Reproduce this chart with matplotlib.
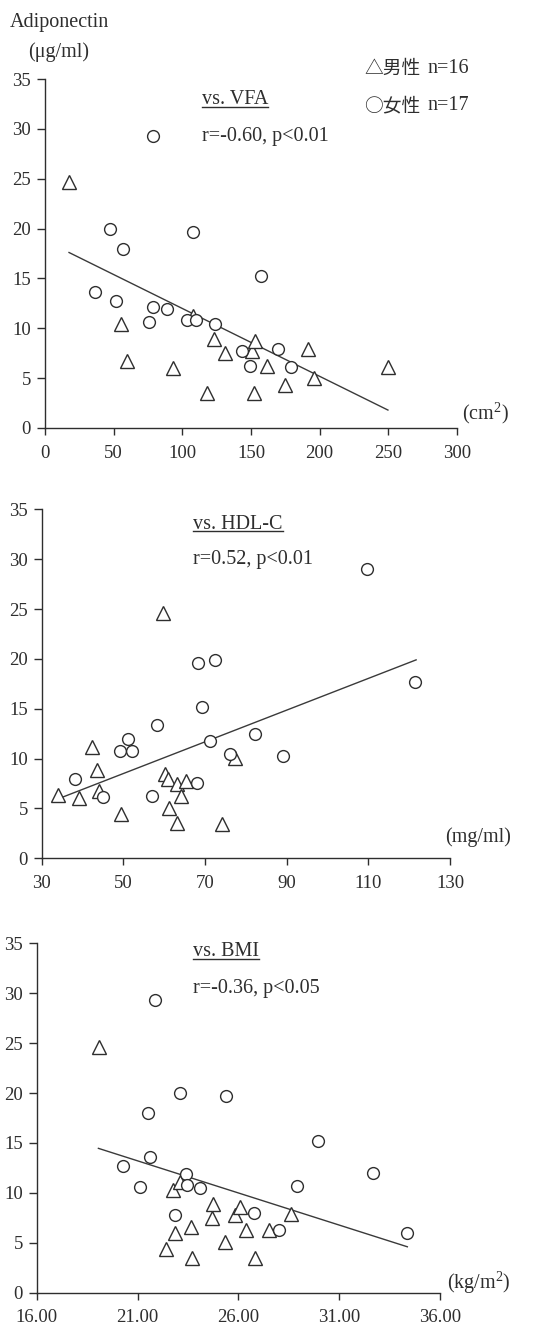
import matplotlib
matplotlib.use("Agg")
import matplotlib.pyplot as plt
from matplotlib.lines import Line2D

# ---------------- data ----------------
vfa_m_x = [17.7, 55.1, 59.5, 93.0, 107.6, 117.8, 122.7, 131.2, 150.6, 153.0, 152.5, 161.5, 174.9, 191.2, 196.0, 249.7]
vfa_m_y = [24.7, 10.4, 6.75, 6.0, 11.2, 3.5, 8.9, 7.5, 7.7, 8.7, 3.5, 6.2, 4.3, 7.9, 5.0, 6.1]
vfa_f_x = [78.5, 47.4, 108.1, 56.6, 157.4, 36.2, 51.7, 78.5, 88.7, 75.8, 103.7, 110.0, 123.6, 143.6, 149.4, 169.3, 179.0]
vfa_f_y = [29.3, 20.0, 19.7, 18.0, 15.2, 13.6, 12.7, 12.1, 11.9, 10.6, 10.8, 10.8, 10.4, 7.7, 6.2, 7.9, 6.1]
vfa_fit_x = [17.5, 249.7]
vfa_fit_y = [17.6, 1.8]

hdl_m_x = [34.1, 39.1, 42.3, 43.5, 44.0, 49.3, 59.6, 60.2, 61.0, 61.3, 63.1, 65.3, 64.1, 63.1, 74.2, 77.3]
hdl_m_y = [6.35, 6.0, 11.2, 8.9, 6.7, 4.4, 24.6, 8.5, 8.0, 5.0, 7.5, 7.8, 6.2, 3.5, 3.45, 10.1]
hdl_f_x = [109.6, 68.4, 72.4, 121.4, 69.2, 58.2, 82.2, 51.2, 71.2, 49.2, 52.2, 76.1, 89.0, 38.2, 68.1, 44.9, 57.0]
hdl_f_y = [29.05, 19.6, 19.9, 17.65, 15.2, 13.4, 12.5, 12.0, 11.8, 10.8, 10.8, 10.5, 10.3, 8.0, 7.6, 6.1, 6.25]
hdl_fit_x = [34.9, 121.7]
hdl_fit_y = [6.1, 19.9]

bmi_m_x = [19.09, 22.78, 23.11, 22.40, 22.88, 23.65, 23.70, 24.76, 24.68, 25.36, 25.85, 26.08, 26.38, 26.84, 27.52, 28.61]
bmi_m_y = [24.65, 10.3, 11.1, 4.4, 6.0, 6.6, 3.5, 8.85, 7.5, 5.1, 7.8, 8.6, 6.3, 3.5, 6.3, 7.9]
bmi_f_x = [21.85, 23.09, 25.39, 21.50, 29.95, 21.60, 20.28, 23.42, 32.66, 23.47, 21.12, 24.12, 28.89, 22.84, 26.78, 28.03, 34.35]
bmi_f_y = [29.3, 19.97, 19.7, 17.97, 15.2, 13.56, 12.7, 11.9, 11.96, 10.8, 10.6, 10.5, 10.7, 7.75, 7.95, 6.3, 6.0]
bmi_fit_x = [19.06, 34.38]
bmi_fit_y = [14.46, 4.6]

y_ticks = [0, 5, 10, 15, 20, 25, 30, 35]
vfa_ticks = [0, 50, 100, 150, 200, 250, 300]
hdl_ticks = [30, 50, 70, 90, 110, 130]
bmi_ticks = [16.0, 21.0, 26.0, 31.0, 36.0]

titles = ["vs. VFA", "vs. HDL-C", "vs. BMI"]
stats = ["r=-0.60, p<0.01", "r=0.52, p<0.01", "r=-0.36, p<0.05"]
units = ["(cm$^2$)", "(mg/ml)", "(kg/m$^2$)"]
legend_m_sym = "△男性"
legend_f_sym = "○女性"
legend_m_n = "n=16"
legend_f_n = "n=17"

# ---------------- style ----------------
FAM = ["Liberation Serif", "Noto Sans CJK JP", "DejaVu Sans"]
CJK = ["Noto Sans CJK JP", "DejaVu Sans"]
plt.rcParams["font.family"] = FAM
plt.rcParams["mathtext.fontset"] = "custom"
plt.rcParams["mathtext.rm"] = "Liberation Serif"
INK = "#2e2e2e"
TXT = 14.5
TICK = 13.5

fig = plt.figure(figsize=(5.55, 13.38), dpi=100)
fig.patch.set_facecolor("white")

W, H = 555.0, 1338.0
# pixel boxes: (left, right, top, bottom) of data area
boxes = [(45, 457, 79, 428), (41.7, 450, 509.3, 858.3), (36.7, 440, 943.3, 1292.7)]
panels = [
    (vfa_m_x, vfa_m_y, vfa_f_x, vfa_f_y, vfa_fit_x, vfa_fit_y, vfa_ticks, (0, 300), [str(t) for t in vfa_ticks]),
    (hdl_m_x, hdl_m_y, hdl_f_x, hdl_f_y, hdl_fit_x, hdl_fit_y, hdl_ticks, (30, 130), [str(t) for t in hdl_ticks]),
    (bmi_m_x, bmi_m_y, bmi_f_x, bmi_f_y, bmi_fit_x, bmi_fit_y, bmi_ticks, (16, 36), ["%.2f" % t for t in bmi_ticks]),
]
title_pos = [(0.381, 0.940, 0.834), (0.371, 0.957, 0.855), (0.3875, 0.976, 0.871)]
unit_pos = [(1.012, 0.043), (0.988, 0.062), (1.017, 0.028)]

title_artists = []
axes = []
for i, (mx, my, fx, fy, lx, ly, xt, xl, xtl) in enumerate(panels):
    l, r, t, b = boxes[i]
    ax = fig.add_axes([l / W, 1 - b / H, (r - l) / W, (b - t) / H])
    axes.append(ax)
    ax.set_facecolor("none")
    ax.plot(lx, ly, color="#3a3a3a", lw=1.0, zorder=2)
    ax.plot(mx, my, linestyle="none", marker="^", ms=9.5, mfc="white", mec=INK, mew=1.0, zorder=3)
    ax.plot(fx, fy, linestyle="none", marker="o", ms=8.5, mfc="white", mec=INK, mew=1.0, zorder=3)
    ax.set_xlim(*xl)
    ax.set_ylim(0, 35)
    ax.set_xticks(xt)
    ax.set_xticklabels(xtl)
    ax.set_yticks(y_ticks)
    for s in ("top", "right"):
        ax.spines[s].set_visible(False)
    for s in ("left", "bottom"):
        ax.spines[s].set_color(INK)
        ax.spines[s].set_linewidth(1.0)
    ax.tick_params(axis="y", direction="out", length=6, width=1.0, color=INK,
                   labelsize=TICK, labelcolor=INK, pad=4)
    ax.tick_params(axis="x", direction="out", length=5, width=1.0, color=INK,
                   labelsize=TICK, labelcolor=INK, pad=7)
    tx, ty1, ty2 = title_pos[i]
    ta = ax.text(tx, ty1, titles[i], transform=ax.transAxes, fontsize=TXT, color=INK,
                 ha="left", va="center", family=FAM)
    title_artists.append((ax, ta))
    ax.text(tx, ty2, stats[i], transform=ax.transAxes, fontsize=TXT, color=INK,
            ha="left", va="center", family=FAM)
    ux, uy = unit_pos[i]
    ax.text(ux, uy, units[i], transform=ax.transAxes, fontsize=TXT, color=INK,
            ha="left", va="center", family=FAM, clip_on=False)

ax0 = axes[0]
for sym, n, yy in ((legend_m_sym, legend_m_n, 1.03), (legend_f_sym, legend_f_n, 0.923)):
    ax0.text(0.775, yy, sym, transform=ax0.transAxes, fontsize=TXT - 1.0, color=INK,
             ha="left", va="center", family=CJK)
    ax0.text(0.928, yy, n, transform=ax0.transAxes, fontsize=TXT, color=INK,
             ha="left", va="center", family=FAM)

fig.text(10 / W, 1 - 22 / H, "Adiponectin", fontsize=TXT, color=INK, ha="left", va="center", family=FAM)
fig.text(28 / W, 1 - 52 / H, "(μg/ml)", fontsize=TXT, color=INK, ha="left", va="center", family=FAM)

# underline titles
fig.canvas.draw()
renderer = fig.canvas.get_renderer()
for ax, ta in title_artists:
    bb = ta.get_window_extent(renderer)
    y = bb.y0 + 2.5
    fig.add_artist(Line2D([bb.x0 / W, bb.x1 / W], [y / H, y / H], transform=fig.transFigure,
                          color=INK, lw=1.0))

fig.savefig("out.png", dpi=100, facecolor="white")
